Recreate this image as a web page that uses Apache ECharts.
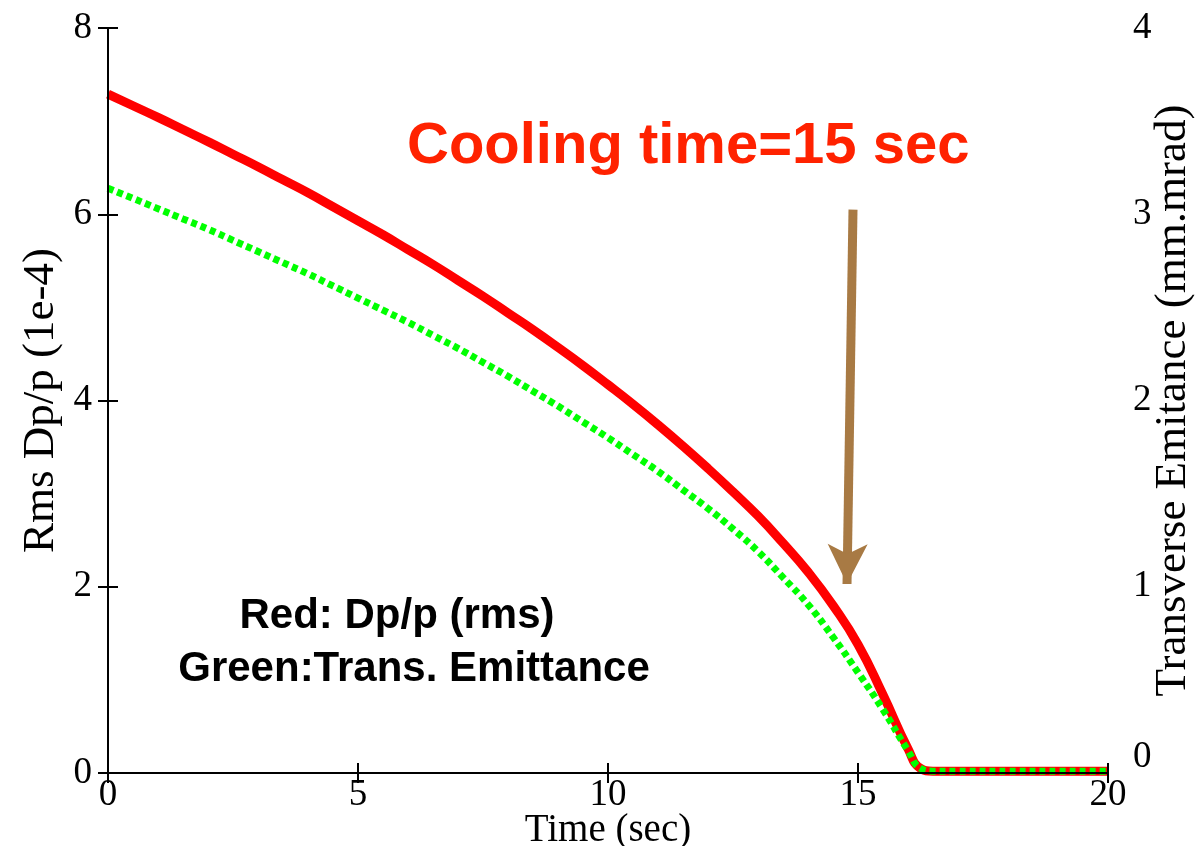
<!DOCTYPE html>
<html>
<head>
<meta charset="utf-8">
<script src="https://cdn.jsdelivr.net/npm/echarts@6/dist/echarts.min.js"></script>
<style>
  html, body { margin: 0; padding: 0; background: #ffffff; overflow: hidden; }
  #chart { width: 1195px; height: 846px; }
</style>
</head>
<body>
<div id="chart"></div>
<script>
// Time samples (sec)
const timeSec = [0, 0.5, 1, 1.5, 2, 2.5, 3, 3.5, 4, 4.5, 5, 5.5, 6, 6.5, 7, 7.5, 8, 8.5, 9, 9.5, 10,
  10.5, 11, 11.5, 12, 12.5, 13, 13.5, 14, 14.5, 15, 15.5, 16, 16.25, 16.5, 17, 18, 19, 20];
// Rms Dp/p (1e-4), left axis
const dpRms = [7.29, 7.165, 7.04, 6.91, 6.78, 6.645, 6.51, 6.37, 6.23, 6.08, 5.93, 5.78, 5.62, 5.46, 5.29, 5.12, 4.94, 4.76, 4.57, 4.375, 4.17,
  3.96, 3.74, 3.51, 3.27, 3.02, 2.76, 2.47, 2.16, 1.80, 1.38, 0.84, 0.26, 0.05, 0.02, 0.02, 0.02, 0.02, 0.02];
// Transverse emittance (mm.mrad), right axis
const emitTrans = [3.14, 3.085, 3.03, 2.975, 2.92, 2.86, 2.80, 2.74, 2.68, 2.615, 2.55, 2.485, 2.42, 2.35, 2.28, 2.205, 2.13, 2.05, 1.97, 1.885, 1.80,
  1.71, 1.62, 1.52, 1.42, 1.31, 1.19, 1.05, 0.905, 0.73, 0.54, 0.34, 0.12, 0.025, 0.01, 0.01, 0.01, 0.01, 0.01];

// Axis ranges and ticks
const xTicks = { min: 0, max: 20, interval: 5 };
const leftTicks = { min: 0, max: 8, interval: 2 };
const rightTicks = { min: 0, max: 4, interval: 1 };

// Arrow annotation (time, Dp/p units): tail and tip
const arrowTail = [14.9, 6.05];
const arrowTip = [14.78, 2.03];

const serif = '"Liberation Serif", "Times New Roman", serif';
const sans = '"Liberation Sans", Arial, Helvetica, sans-serif';

const chart = echarts.init(document.getElementById('chart'), null, { renderer: 'canvas', width: 1195, height: 846 });

const axisLineStyle = { color: '#000', width: 2 };
const tickStyle = { show: true, inside: true, length: 10, lineStyle: { color: '#000', width: 2 } };

chart.setOption({
  animation: false,
  backgroundColor: '#ffffff',
  grid: { left: 108, right: 87, top: 28, bottom: 73, containLabel: false, outerBoundsMode: 'none' },
  xAxis: [
    {
      type: 'value', position: 'bottom', z: 5,
      min: xTicks.min, max: xTicks.max, interval: xTicks.interval,
      name: 'Time (sec)', nameLocation: 'middle', nameGap: 38, nameMoveOverlap: false,
      nameTextStyle: { fontFamily: serif, fontSize: 39, color: '#000' },
      axisLine: { show: true, lineStyle: axisLineStyle },
      axisTick: tickStyle,
      axisLabel: { fontFamily: serif, fontSize: 37, color: '#000', margin: 4 },
      splitLine: { show: false }
    },
    {
      type: 'value', position: 'top', z: 5,
      min: xTicks.min, max: xTicks.max, interval: xTicks.interval,
      axisLine: { show: true, lineStyle: axisLineStyle },
      axisTick: tickStyle,
      axisLabel: { show: false },
      splitLine: { show: false }
    }
  ],
  yAxis: [
    {
      type: 'value', position: 'left', z: 5,
      min: leftTicks.min, max: leftTicks.max, interval: leftTicks.interval,
      name: 'Rms Dp/p (1e-4)', nameLocation: 'middle', nameGap: 44, nameRotate: 90, nameMoveOverlap: false,
      nameTextStyle: { fontFamily: serif, fontSize: 45, color: '#000' },
      axisLine: { show: true, lineStyle: axisLineStyle },
      axisTick: tickStyle,
      axisLabel: { fontFamily: serif, fontSize: 37, color: '#000', margin: 16 },
      splitLine: { show: false }
    },
    {
      type: 'value', position: 'right', z: 5,
      min: rightTicks.min, max: rightTicks.max, interval: rightTicks.interval,
      name: 'Transverse Emitance (mm.mrad)', nameLocation: 'middle', nameGap: 43, nameRotate: 90, nameMoveOverlap: false,
      nameTextStyle: { fontFamily: serif, fontSize: 45, color: '#000' },
      axisLine: { show: true, lineStyle: axisLineStyle },
      axisTick: tickStyle,
      axisLabel: {
        fontFamily: serif, fontSize: 37, color: '#000', margin: 25,
        formatter: function (v) { return v === 0 ? '{lift|0}' : String(v); },
        rich: { lift: { fontFamily: serif, fontSize: 37, color: '#000', padding: [0, 0, 32, 0] } }
      },
      splitLine: { show: false }
    }
  ],
  series: [
    {
      name: 'Dp/p (rms)', type: 'line', xAxisIndex: 0, yAxisIndex: 0, z: 2,
      data: timeSec.map((t, i) => [t, dpRms[i]]),
      showSymbol: false, smooth: 0.5,
      lineStyle: { color: '#ff0000', width: 9 },
      markLine: {
        silent: true,
        symbol: ['none', 'arrow'],
        symbolSize: [30, 40],
        label: { show: false },
        lineStyle: { color: '#a87a44', width: 9, type: 'solid', opacity: 1 },
        data: [[{ coord: arrowTail }, { coord: arrowTip }]]
      }
    },
    {
      name: 'Trans. Emittance', type: 'line', xAxisIndex: 0, yAxisIndex: 1, z: 3,
      data: timeSec.map((t, i) => [t, emitTrans[i]]),
      showSymbol: false, smooth: 0.5,
      lineStyle: { color: '#00ff00', width: 7, type: [6, 4], cap: 'butt' }
    }
  ],
  graphic: [
    {
      type: 'text', left: 407, top: 118, z: 10,
      style: { text: 'Cooling time=15 sec', font: 'bold 58px ' + sans, fill: '#ff2200' }
    },
    {
      type: 'text', x: 397, y: 616, z: 10,
      style: { text: 'Red: Dp/p (rms)', font: 'bold 42px ' + sans, fill: '#000', align: 'center', verticalAlign: 'middle' }
    },
    {
      type: 'text', x: 414, y: 669, z: 10,
      style: { text: 'Green:Trans. Emittance', font: 'bold 42px ' + sans, fill: '#000', align: 'center', verticalAlign: 'middle' }
    }
  ]
});
</script>
</body>
</html>
